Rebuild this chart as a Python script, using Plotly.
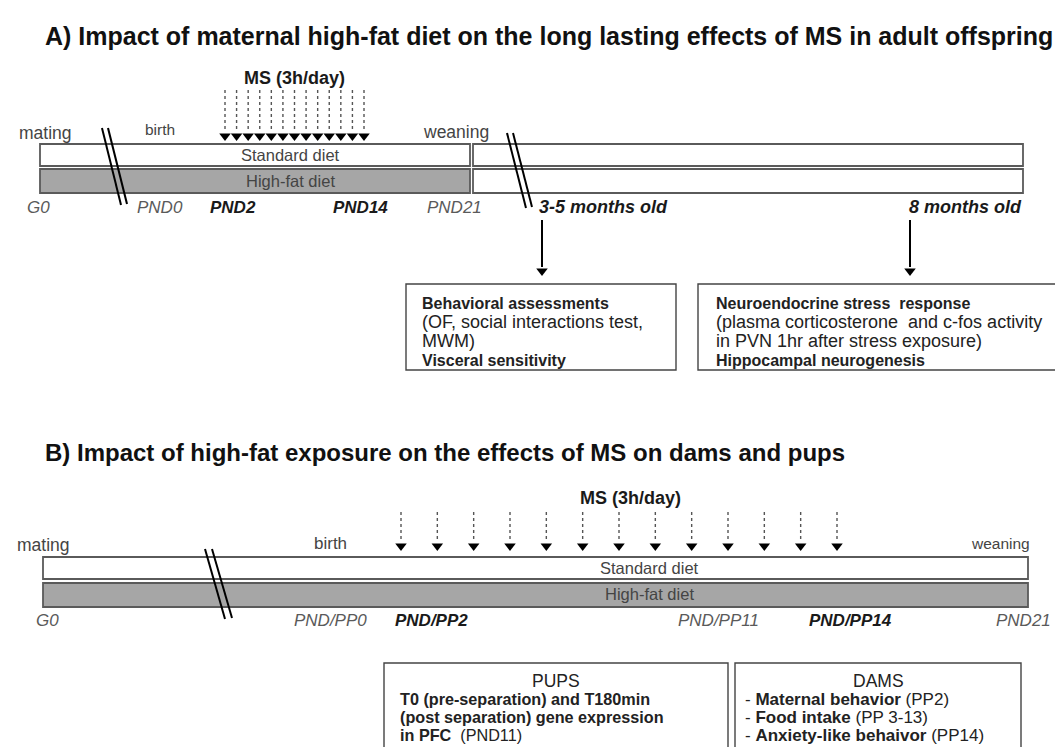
import plotly.graph_objects as go

W, H = 1063, 747
FONT = "Liberation Sans, Arial, sans-serif"

# ---------------- data ----------------
title_a = "A) Impact of maternal high-fat diet on the long lasting effects of MS in adult offspring"
title_b = "B) Impact of high-fat exposure on the effects of MS on dams and pups"
ms_label = "MS (3h/day)"
ms_days = [2, 3, 4, 5, 6, 7, 8, 9, 10, 11, 12, 13, 14]
diets = ["Standard diet", "High-fat diet"]
events = ["mating", "birth", "weaning"]

a_timepoints = ["G0", "PND0", "PND2", "PND14", "PND21", "3-5 months old", "8 months old"]
a_tp_bold = [False, False, True, True, False, True, True]
b_timepoints = ["G0", "PND/PP0", "PND/PP2", "PND/PP11", "PND/PP14", "PND21"]
b_tp_bold = [False, False, True, False, True, False]

# (text, bold)
a_box1 = [("Behavioral assessments", True), ("(OF, social interactions test,", False),
          ("MWM)", False), ("Visceral sensitivity", True)]
a_box2 = [("Neuroendocrine stress  response", True),
          ("(plasma corticosterone  and c-fos activity", False),
          ("in PVN 1hr after stress exposure)", False), ("Hippocampal neurogenesis", True)]
b_box1_head = "PUPS"
b_box1 = ["<b>T0 (pre-separation) and T180min</b>", "<b>(post separation) gene expression</b>",
          "<b>in PFC</b>  (PND11)"]
b_box2_head = "DAMS"
b_box2 = ["- <b>Maternal behavior</b> (PP2)", "- <b>Food intake</b> (PP 3-13)",
          "- <b>Anxiety-like behaivor</b> (PP14)"]

# ---------------- style constants ----------------
EDGE = "#5a5a5a"
HF_FILL = "#a6a6a6"
GREY_TXT = "#5a5a5a"
DARK_TXT = "#1a1a1a"

# timeline scales for the MS days
def xa(day):
    return 217 + (day - 2) * (356 - 217) / 12

def xb(day):
    return 393 + (day - 2) * (829 - 393) / 12

fig = go.Figure()
shapes = []
ann = []

def text(x, y, s, size=15, color=DARK_TXT, anchor="center", bold=False, italic=False):
    if italic:
        s = "<i>" + s + "</i>"
    if bold:
        s = "<b>" + s + "</b>"
    ann.append(dict(x=x, y=y, text=s, showarrow=False, xanchor=anchor, yanchor="middle",
                    font=dict(family=FONT, size=size, color=color), xref="x", yref="y"))

def rect(x0, y0, x1, y1, fill="white", color=EDGE, width=1.8):
    shapes.append(dict(type="rect", x0=x0, y0=y0, x1=x1, y1=y1, xref="x", yref="y",
                       fillcolor=fill, line=dict(color=color, width=width), layer="below"))

def line(x0, y0, x1, y1, color="black", width=2, dash="solid"):
    shapes.append(dict(type="line", x0=x0, y0=y0, x1=x1, y1=y1, xref="x", yref="y",
                       line=dict(color=color, width=width, dash=dash)))

# ================= Panel A =================
text(35, 28, title_a, size=25, color="#111", anchor="left", bold=True)
text(286, 70, ms_label, size=18, bold=True)

tri_x, tri_y = [], []
for d in ms_days:
    line(xa(d), 82, xa(d), 122, color="#555", width=1.4, dash="dot")
    tri_x.append(xa(d)); tri_y.append(128)

# bars
rect(32, 136, 462, 158)
rect(32, 161, 462, 185, fill=HF_FILL)
rect(465, 136, 1015, 158)
rect(465, 161, 1015, 185)
text(282, 147, diets[0], size=16.5, color="#444")
text(282, 173, diets[1], size=16.5, color="#444")

text(37, 125, events[0], size=17.5, color="#444")
text(152, 121, events[1], size=15.5, color="#444")
text(448, 124, events[2], size=17.5, color="#444")

# break marks
line(94, 120, 113, 197); line(100, 120, 119, 196)
line(499, 125, 518, 200); line(505, 125, 524, 199)

a_tp_x = [30, 152, 225, 352, 446, 595, 957]
for lbl, x, b in zip(a_timepoints, a_tp_x, a_tp_bold):
    sz = 18 if "months" in lbl else 17
    text(x, 199, lbl, size=sz, color=DARK_TXT if b else GREY_TXT, bold=b, italic=True)

# solid arrows
for x in [534, 902]:
    line(x, 212, x, 259, color="black", width=2)
    tri_x.append(x); tri_y.append(263)

# boxes
rect(398, 276, 668, 362, color="#444", width=1.4)
rect(690, 276, 1050, 362, color="#444", width=1.4)
for bx, rows in [(412, a_box1), (706, a_box2)]:
    for i, (s, b) in enumerate(rows):
        text(bx, 295 + i * 19, s, size=16 if b else 18, color="#222", anchor="left", bold=b)

# ================= Panel B =================
text(35, 444, title_b, size=24, color="#111", anchor="left", bold=True)
text(622, 490, ms_label, size=18, bold=True)
for d in ms_days:
    line(xb(d), 504, xb(d), 532, color="#555", width=1.4, dash="dot")
    tri_x.append(xb(d)); tri_y.append(538)

rect(35, 549, 1020, 571)
rect(35, 575, 1020, 599, fill=HF_FILL)
text(641, 560, diets[0], size=16.5, color="#444")
text(641, 586, diets[1], size=16.5, color="#444")

text(35, 537, events[0], size=17.5, color="#444")
text(322, 535, events[1], size=17, color="#444")
text(992, 535, events[2], size=15.5, color="#444")

line(197, 541, 217, 611); line(204, 541, 224, 610)

b_tp_x = [39, 322, 423, 710, 842, 1015]
for lbl, x, b in zip(b_timepoints, b_tp_x, b_tp_bold):
    text(x, 612, lbl, size=17, color=DARK_TXT if b else GREY_TXT, bold=b, italic=True)

rect(376, 655, 720, H + 10, color="#444", width=1.4)
rect(727, 655, 1013, H + 10, color="#444", width=1.4)
text(548, 673, b_box1_head, size=17.5, color="#222")
for i, s in enumerate(b_box1):
    text(390, 691 + i * 18, s, size=16.2, color="#222", anchor="left")
text(870, 673, b_box2_head, size=17.5, color="#222")
for i, s in enumerate(b_box2):
    text(735, 691 + i * 18, s, size=17, color="#222", anchor="left")

# arrowheads
fig.add_trace(go.Scatter(x=tri_x, y=tri_y, mode="markers", hoverinfo="skip",
                         marker=dict(symbol="triangle-down", size=10, color="black",
                                     line=dict(width=0))))

fig.update_layout(
    width=W, height=H, margin=dict(l=0, r=0, t=0, b=0),
    paper_bgcolor="white", plot_bgcolor="white", showlegend=False,
    xaxis=dict(range=[0, W], visible=False, fixedrange=True),
    yaxis=dict(range=[H, 0], visible=False, fixedrange=True),
    shapes=shapes, annotations=ann,
)
fig.write_html("out.html")
